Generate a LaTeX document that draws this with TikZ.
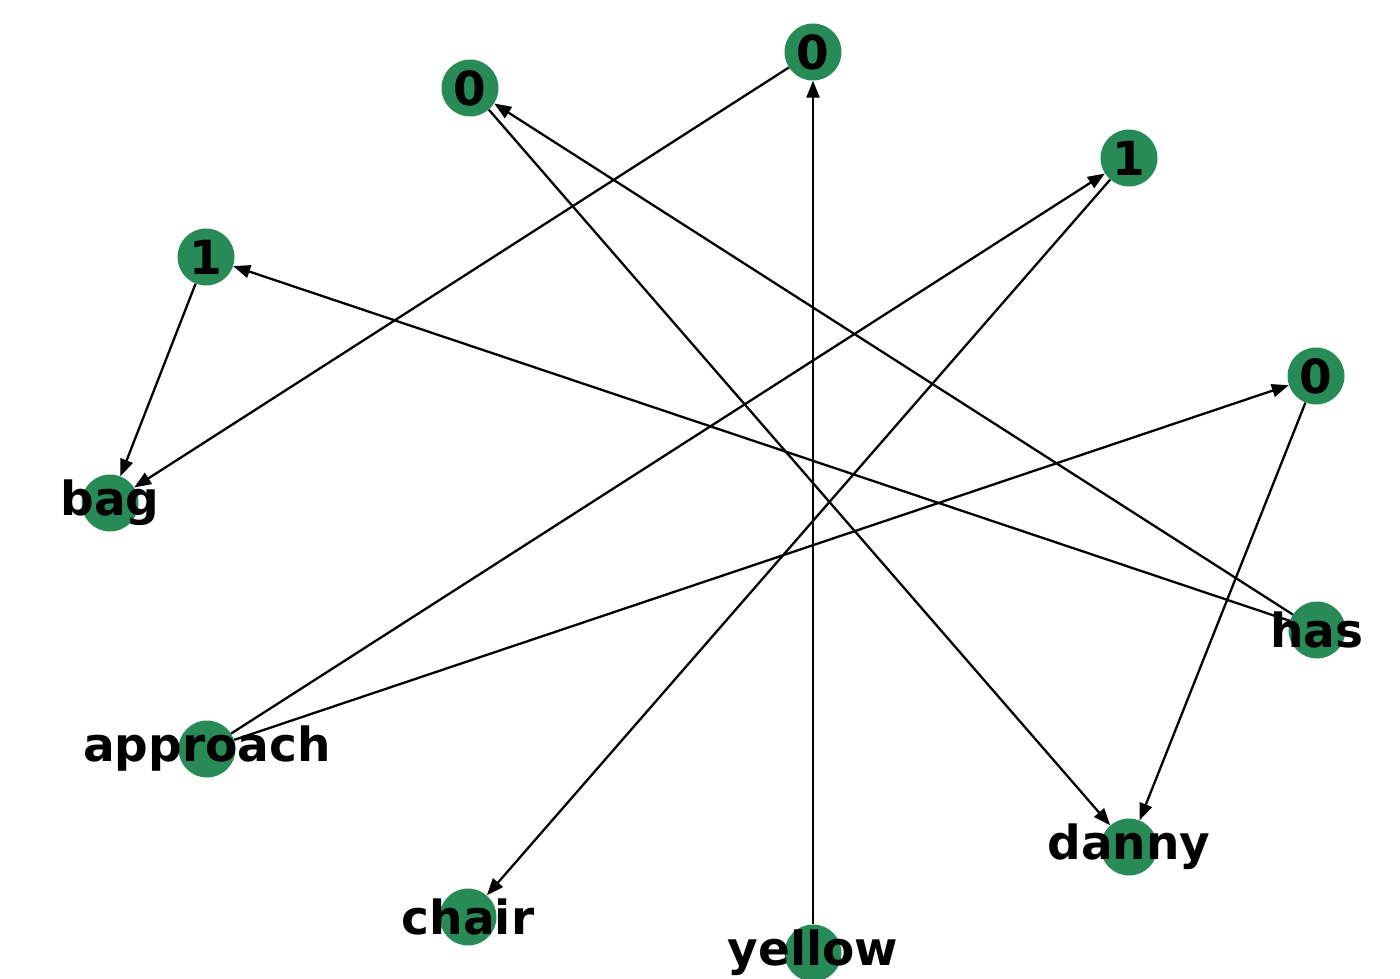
\documentclass[tikz,border=0pt]{standalone}
\usepackage{fontspec}
\setmainfont{DejaVu Sans}
\usetikzlibrary{arrows.meta}
\definecolor{nodegreen}{RGB}{40,139,87}
\tikzset{
  vtx/.style={circle, fill=nodegreen, draw=none, minimum size=57pt, inner sep=0pt},
  lbl/.style={inner sep=0pt, anchor=center, font=\fontsize{47}{50}\selectfont\bfseries, text=black},
  edge/.style={draw=black, line width=2.3pt, -{Triangle[length=17pt,width=13pt]}}
}
\begin{document}
\begin{tikzpicture}[x=1pt,y=-1pt]
\useasboundingbox (0,0) rectangle (1400,979);
% vertices
\node[vtx] (zt) at (813,52) {};
\node[vtx] (zl) at (470,88) {};
\node[vtx] (orr) at (1129,158) {};
\node[vtx] (ol) at (206,257) {};
\node[vtx] (zr) at (1316,376) {};
\node[vtx] (bag) at (110,503) {};
\node[vtx] (has) at (1317,630) {};
\node[vtx] (appr) at (207,749) {};
\node[vtx] (danny) at (1129,847) {};
\node[vtx] (chair) at (468,917) {};
\node[vtx] (yellow) at (813,953) {};
% edges
\draw[edge] (zt) -- (bag);
\draw[edge] (yellow) -- (zt);
\draw[edge] (appr) -- (orr);
\draw[edge] (orr) -- (chair);
\draw[edge] (appr) -- (zr);
\draw[edge] (zr) -- (danny);
\draw[edge] (zl) -- (danny);
\draw[edge] (has) -- (zl);
\draw[edge] (has) -- (ol);
\draw[edge] (ol) -- (bag);
% labels
\node[lbl] (Lzt) at (zt.center) {0};
\node[lbl] (Lzl) at (zl.center) {0};
\node[lbl] (Lorr) at (orr.center) {1};
\node[lbl] (Lol) at (ol.center) {1};
\node[lbl] (Lzr) at (zr.center) {0};
\node[lbl] (Lbag) at (bag.center) {bag};
\node[lbl] (Lhas) at (has.center) {has};
\node[lbl] (Lappr) at (appr.center) {approach};
\node[lbl] (Ldanny) at (danny.center) {danny};
\node[lbl] (Lchair) at (chair.center) {chair};
\node[lbl] (Lyellow) at (yellow.center) {yellow};
\end{tikzpicture}
\end{document}
